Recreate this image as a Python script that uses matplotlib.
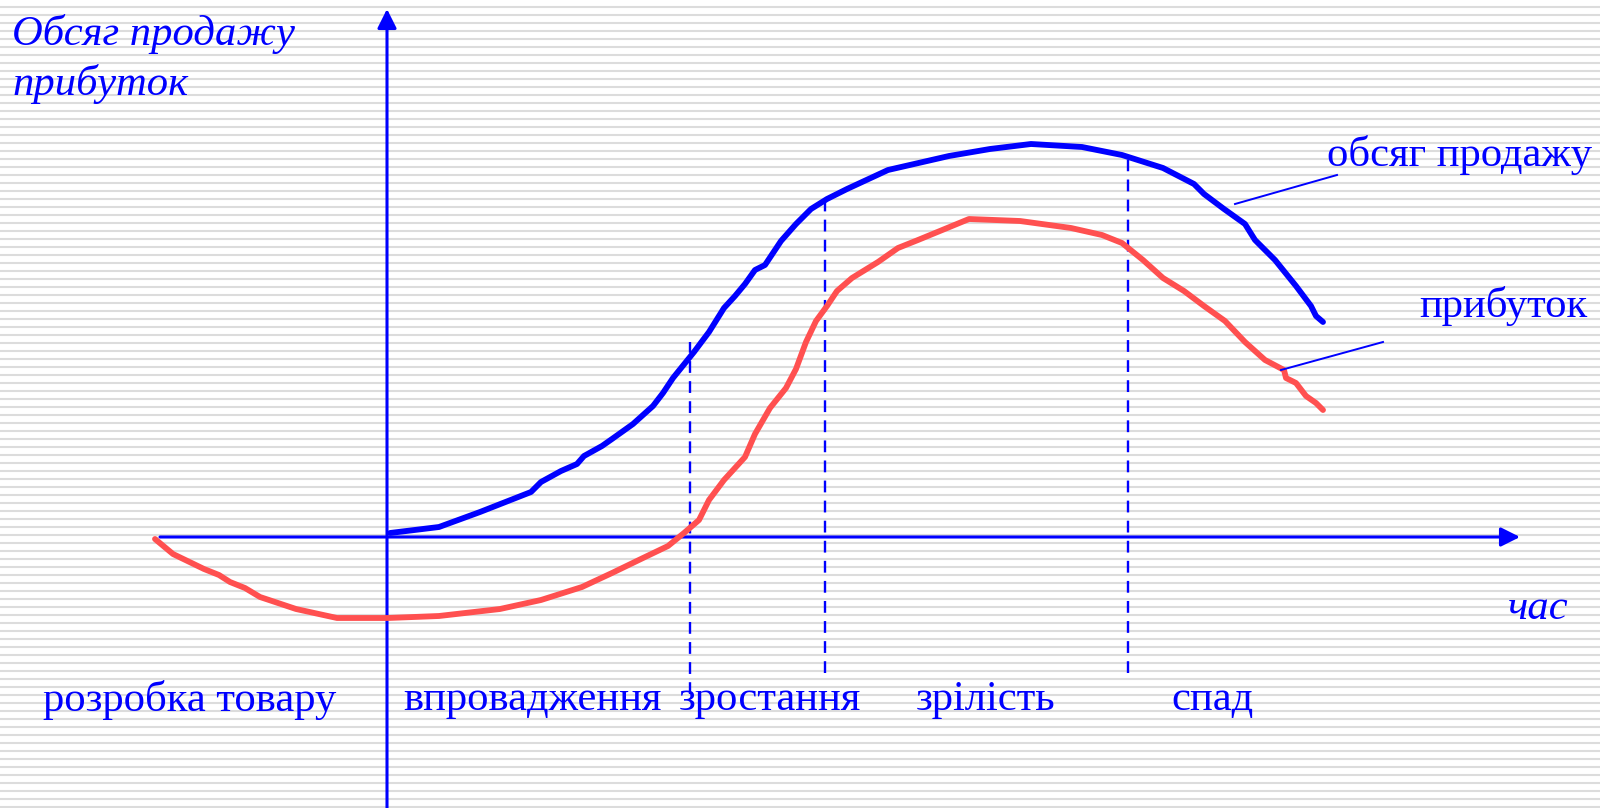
import numpy as np
import matplotlib
matplotlib.use("Agg")
import matplotlib.pyplot as plt

# product life cycle: time vs value (arbitrary units, origin at axes crossing)
sales_t = [3, 52, 93, 144, 154, 174, 190, 197, 215, 225, 246, 266, 276, 286, 307,
           322, 337, 348, 358, 368, 378, 394, 409, 424, 440, 460, 501, 562, 603, 644,
           695, 735, 776, 807, 817, 837, 858, 868, 888, 909, 924, 929, 936]
sales_v = [4, 10, 25, 45, 55, 66, 73, 81, 91, 98, 113, 131, 144, 159, 185,
           205, 229, 241, 253, 267, 272, 296, 313, 328, 338, 348, 367, 381, 388, 393,
           390, 382, 369, 353, 343, 328, 313, 297, 277, 251, 231, 221, 215]

profit_t = [-232, -214, -183, -168, -157, -142, -127, -91, -50, 1, 52, 113, 154, 195,
            225, 256, 281, 297, 312, 322, 337, 358, 368, 383, 399, 409, 419, 429, 440,
            450, 465, 491, 511, 531, 582, 633, 684, 715, 735, 756, 776, 797, 817, 838,
            858, 878, 897, 899, 909, 919, 929, 936]
profit_v = [-2, -17, -32, -38, -45, -51, -60, -72, -81, -81, -79, -72, -63, -50,
            -36, -21, -9, 4, 17, 37, 57, 80, 103, 129, 149, 168, 195, 216, 231,
            246, 259, 275, 289, 297, 318, 316, 309, 302, 294, 277, 259, 246, 231, 216,
            195, 177, 167, 159, 154, 141, 134, 127]

# stage boundaries (time) and the span of each dashed marker
stage_bounds = [303, 438, 741]
stage_top = [195, 338, 384]
stage_bottom = [-157, -136, -136]

stage_names = ["розробка товару", "впровадження", "зростання", "зрілість", "спад"]
stage_left = [-344, 16, 292, 529, 784]

BLUE = "#0000ff"
RED = "#ff5050"
serif = ["Liberation Serif", "DejaVu Serif"]

fig = plt.figure(figsize=(16, 8.08), dpi=100)
ax = fig.add_axes([0, 0, 1, 1])
ax.set_xlim(-387, 1213)
ax.set_ylim(-271, 537)
ax.axis("off")

# ruled background
stripes = 537 - (7 + 8 * np.arange(101))
ax.hlines(stripes, -387, 1213, color="#dcdcdc", lw=1.5, zorder=0)

# axes with arrows
ax.annotate("", xy=(1133, 0), xytext=(-227, 0),
            arrowprops=dict(arrowstyle="-|>", mutation_scale=29, color=BLUE, lw=2.2,
                            shrinkA=0, shrinkB=0), zorder=2)
ax.annotate("", xy=(0, 528), xytext=(0, -271),
            arrowprops=dict(arrowstyle="-|>", mutation_scale=29, color=BLUE, lw=2.2,
                            shrinkA=0, shrinkB=0), zorder=2)

# stage boundaries
ax.vlines(stage_bounds, stage_bottom, stage_top, colors=BLUE, lw=1.7,
          linestyles=(0, (5, 3.5)), zorder=2)

# curves
ax.plot(sales_t, sales_v, color=BLUE, lw=4.2, solid_capstyle="round",
        solid_joinstyle="round", zorder=3)
ax.plot(profit_t, profit_v, color=RED, lw=4.2, solid_capstyle="round",
        solid_joinstyle="round", zorder=3)

# leader lines to the curve labels
ax.plot([848, 950], [333, 362], color=BLUE, lw=1.4, zorder=3)
ax.plot([894, 996], [167, 195], color=BLUE, lw=1.4, zorder=3)

fs = 30.7
ax.text(-375, 503, "Обсяг продажу", family=serif, style="italic", fontsize=fs,
        color=BLUE, ha="left", va="center")
ax.text(-375, 453, "прибуток", family=serif, style="italic", fontsize=fs,
        color=BLUE, ha="left", va="center")
ax.text(1205, 382, "обсяг продажу", family=serif, fontsize=fs, color=BLUE,
        ha="right", va="center")
ax.text(1200, 231, "прибуток", family=serif, fontsize=fs, color=BLUE,
        ha="right", va="center")
ax.text(1121, -72, "час", family=serif, style="italic", fontsize=fs, color=BLUE,
        ha="left", va="center")
for name, x in zip(stage_names, stage_left):
    ax.text(x, -163, name, family=serif, fontsize=fs, color=BLUE,
            ha="left", va="center")

fig.savefig("out.png", dpi=100, facecolor="white")
